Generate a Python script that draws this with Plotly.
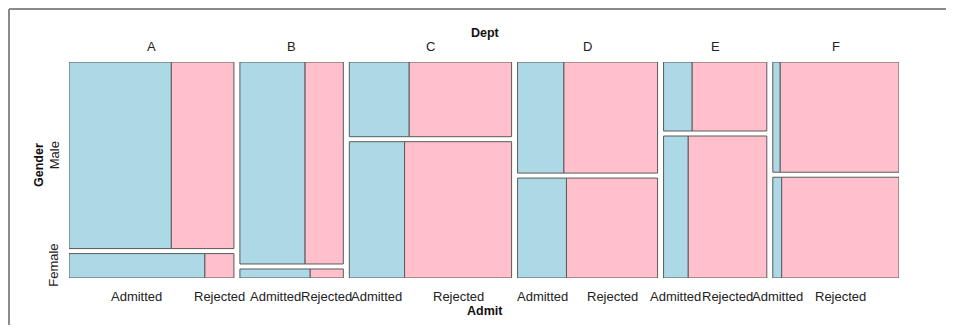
import plotly.graph_objects as go

depts = ["A", "B", "C", "D", "E", "F"]
male_admitted = [512, 353, 120, 138, 53, 22]
male_rejected = [313, 207, 205, 279, 138, 351]
female_admitted = [89, 17, 202, 131, 94, 24]
female_rejected = [19, 8, 391, 244, 299, 317]

blue = "#ADD8E6"
pink = "#FFC0CB"
edge = "#5a5a5a"

# page body has an 8px margin, so figure pixel = screen pixel - 8
OFF = 8
W, H = 954 - 2 * OFF, 333 - 2 * OFF
L, T = 69 - OFF, 62 - OFF
pw, ph = 830, 216
R, B = W - L - pw, H - T - ph
gx = 6 / (pw - 30)     # gap between departments
gy = 5 / (ph - 5)      # gap between genders

totals = [ma + mr + fa + fr for ma, mr, fa, fr in
          zip(male_admitted, male_rejected, female_admitted, female_rejected)]
grand = sum(totals)

fig = go.Figure()
shapes = []
annotations = []
font = dict(family="Liberation Sans, Arial", size=13, color="#222")
bold = dict(family="Liberation Sans, Arial", size=12.5, color="#111")

x0 = 0
for i, d in enumerate(depts):
    w = totals[i] / grand
    male = male_admitted[i] + male_rejected[i]
    female = female_admitted[i] + female_rejected[i]
    mfrac = male / totals[i]
    rows = [
        (0, mfrac, male_admitted[i] / male),
        (mfrac + gy, 1 + gy, female_admitted[i] / female),
    ]
    for y0, y1, a in rows:
        xm = x0 + w * a
        shapes.append(dict(type="rect", xref="x", yref="y", x0=x0, x1=xm, y0=y0, y1=y1,
                           fillcolor=blue, line=dict(color=edge, width=1)))
        shapes.append(dict(type="rect", xref="x", yref="y", x0=xm, x1=x0 + w, y0=y0, y1=y1,
                           fillcolor=pink, line=dict(color=edge, width=1)))
    # dept label
    annotations.append(dict(x=x0 + w / 2, y=0, xref="x", yref="y", text=d, showarrow=False,
                            yanchor="middle", yshift=16, font=font))
    # admit labels under female row
    fa = female_admitted[i] / female
    annotations.append(dict(x=x0 + w * fa / 2, y=1 + gy, xref="x", yref="y", text="Admitted",
                            showarrow=False, yanchor="middle", yshift=-18, font=font))
    annotations.append(dict(x=x0 + w * (1 + fa) / 2, y=1 + gy, xref="x", yref="y", text="Rejected",
                            showarrow=False, yanchor="middle", yshift=-18, font=font))
    if i == 0:
        annotations.append(dict(x=0, y=mfrac / 2, xref="x", yref="y", text="Male", textangle=-90,
                                showarrow=False, xanchor="center", xshift=-15, font=font))
        annotations.append(dict(x=0, y=(mfrac + gy + 1 + gy) / 2, xref="x", yref="y", text="Female",
                                textangle=-90, showarrow=False, xanchor="center", xshift=-15, font=font))
    x0 += w + gx

# titles
annotations.append(dict(x=(485 - 69) / pw, y=1, xref="paper", yref="paper", text="<b>Dept</b>",
                        showarrow=False, yanchor="middle", yshift=29, font=bold))
annotations.append(dict(x=(485 - 69) / pw, y=0, xref="paper", yref="paper", text="<b>Admit</b>",
                        showarrow=False, yanchor="middle", yshift=-33, font=bold))
annotations.append(dict(x=0, y=(278 - 165) / ph, xref="paper", yref="paper", text="<b>Gender</b>",
                        textangle=-90, showarrow=False, xanchor="center", xshift=-30, font=bold))

# outer frame (top and left), as far up/left as the figure allows
frame = "#8a8a8a"
fx, fy = 1 - L, T - 1
shapes.append(dict(type="line", xref="paper", yref="paper",
                   x0=fx / pw, x1=(W - L) / pw, y0=1 + fy / ph, y1=1 + fy / ph,
                   line=dict(color=frame, width=2)))
shapes.append(dict(type="line", xref="paper", yref="paper",
                   x0=fx / pw, x1=fx / pw, y0=1 + fy / ph, y1=-B / ph,
                   line=dict(color=frame, width=2)))

fig.update_layout(
    width=W, height=H,
    margin=dict(l=L, r=R, t=T, b=B),
    plot_bgcolor="white", paper_bgcolor="white",
    xaxis=dict(range=[0, x0 - gx], visible=False, fixedrange=True),
    yaxis=dict(range=[1 + gy, 0], visible=False, fixedrange=True),
    shapes=shapes, annotations=annotations, showlegend=False,
)

fig.write_html("out.html")
